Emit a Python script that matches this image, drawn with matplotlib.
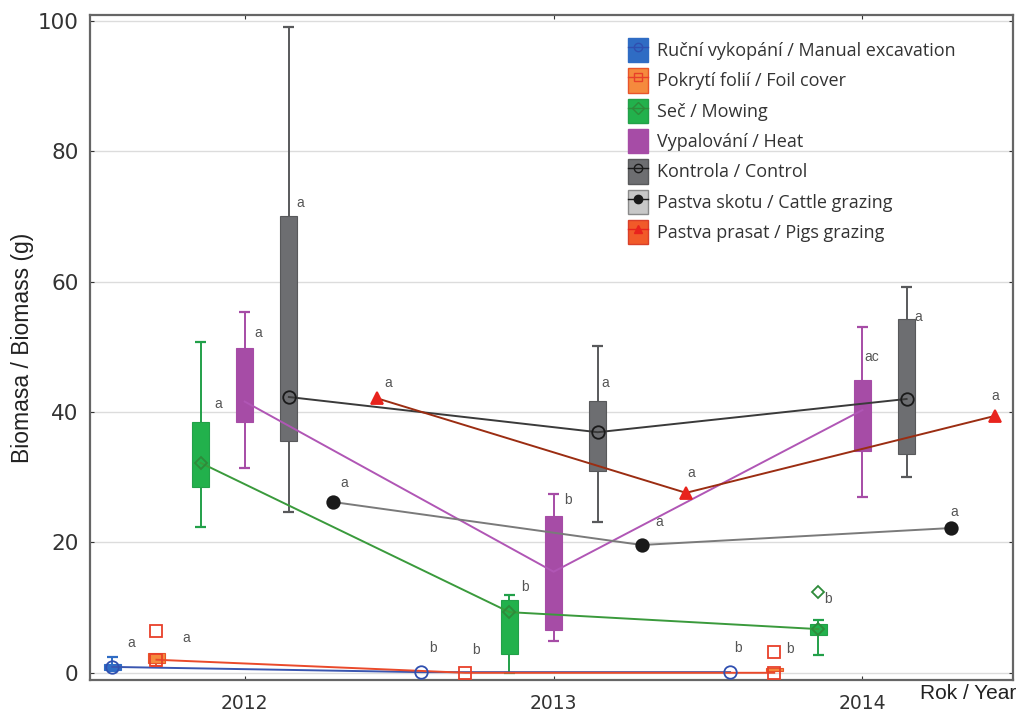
import numpy as np
import matplotlib
matplotlib.use("Agg")
from matplotlib import pyplot as plt
import matplotlib.patches as mpatches
from matplotlib.lines import Line2D

plt.rcParams['font.family'] = ['DejaVu Sans']

years = ['2012', '2013', '2014']
labels = ['Ruční vykopání / Manual excavation', 'Pokrytí folií / Foil cover', 'Seč / Mowing',
          'Vypalování / Heat', 'Kontrola / Control', 'Pastva skotu / Cattle grazing',
          'Pastva prasat / Pigs grazing']

nan = np.nan
# median per treatment and year
median = [[0.9, 0.1, 0.1],
          [2.0, 0.0, 0.0],
          [32.2, 9.3, 6.7],
          [41.6, 15.5, 40.3],
          [42.3, 36.9, 42.0],
          [26.2, 19.6, 22.2],
          [42.1, 27.6, 39.4]]
q1 = [[0.5, nan, nan],
      [1.5, nan, 0.2],
      [28.5, 2.9, 5.8],
      [38.4, 6.6, 34.0],
      [35.5, 30.9, 33.5],
      [nan, nan, nan],
      [nan, nan, nan]]
q3 = [[1.3, nan, nan],
      [3.0, nan, 0.8],
      [38.4, 11.2, 7.5],
      [49.8, 24.0, 44.9],
      [70.0, 41.7, 54.2],
      [nan, nan, nan],
      [nan, nan, nan]]
wlo = [[0.3, nan, nan],
       [1.1, nan, nan],
       [22.4, 0.0, 2.8],
       [31.4, 4.9, 27.0],
       [24.7, 23.1, 30.0],
       [nan, nan, nan],
       [nan, nan, nan]]
whi = [[2.4, nan, nan],
       [nan, nan, nan],
       [50.8, 11.9, 8.1],
       [55.4, 27.4, 53.0],
       [99.1, 50.2, 59.1],
       [nan, nan, nan],
       [nan, nan, nan]]
# outliers: (treatment, year, value)
outliers = [(1, 0, 6.4), (1, 2, 3.2), (2, 2, 12.4)]
# significance letters: (treatment, year, text, value)
letters = [(0, 0, 'a', 4.6), (1, 0, 'a', 5.4), (2, 0, 'a', 41.2), (3, 0, 'a', 52.1),
           (4, 0, 'a', 72.0), (5, 0, 'a', 29.1), (6, 0, 'a', 44.4),
           (0, 1, 'b', 3.8), (1, 1, 'b', 3.5), (2, 1, 'b', 13.2), (3, 1, 'b', 26.5),
           (4, 1, 'a', 44.4), (5, 1, 'a', 23.1), (6, 1, 'a', 30.6),
           (0, 2, 'b', 3.8), (1, 2, 'b', 3.7), (2, 2, 'b', 11.3), (3, 2, 'ac', 48.4),
           (4, 2, 'a', 54.5), (5, 2, 'a', 24.7), (6, 2, 'a', 42.4)]
letter_dx = [0.06, 0.095, 0.056, 0.045, 0.038, 0.038, 0.037,
             0.037, 0.034, 0.049, 0.045, 0.025, 0.057, 0.018,
             0.024, 0.05, 0.03, 0.029, 0.038, 0.012, 0.0]

box_col = ['#2f6cc4', '#f58a3d', '#22b14c', '#a64ca6', '#6d6e71', '#c8c8c8', '#f15a29']
edge_col = ['#2f6cc4', '#e8542a', '#22a049', '#a64ca6', '#58595b', '#8a8a8a', '#d9402a']
line_col = ['#3a56b0', '#ea4a2b', '#3a9a3c', '#b056b5', '#3a3a3a', '#7a7a7a', '#9b2d12']
mk = ['o', 's', 'D', None, 'o', 'o', '^']
mk_face = ['none', 'none', 'none', 'none', 'none', '#1a1a1a', '#e8231d']
mk_edge = ['#2f4fb0', '#e8402a', '#2e8b3a', '#a64ca6', '#1a1a1a', '#1a1a1a', '#e8231d']
mk_size = [9, 8, 6, 0, 9, 9, 9]

fig, ax = plt.subplots(figsize=(10.19, 7.12), dpi=100)
fig.subplots_adjust(left=0.088, right=0.994, bottom=0.045, top=0.979)

bw = 0.056
cap = 0.028
for t in range(7):
    xs = np.arange(3) + (t - 3) / 7.0
    ax.plot(xs, median[t], color=line_col[t], lw=1.4, zorder=3)
    for y in range(3):
        x = xs[y]
        if not np.isnan(whi[t][y]):
            ax.vlines(x, q3[t][y] if not np.isnan(q3[t][y]) else median[t][y], whi[t][y],
                      color=edge_col[t], lw=1.4, zorder=2)
            ax.hlines(whi[t][y], x - cap / 2 - 0.004, x + cap / 2 + 0.004, color=edge_col[t], lw=1.6, zorder=2)
        if not np.isnan(wlo[t][y]):
            ax.vlines(x, wlo[t][y], q1[t][y] if not np.isnan(q1[t][y]) else median[t][y],
                      color=edge_col[t], lw=1.4, zorder=2)
            ax.hlines(wlo[t][y], x - cap / 2 - 0.004, x + cap / 2 + 0.004, color=edge_col[t], lw=1.6, zorder=2)
        if not np.isnan(q1[t][y]):
            ax.bar(x, q3[t][y] - q1[t][y], bottom=q1[t][y], width=bw, color=box_col[t],
                   edgecolor=edge_col[t], linewidth=0.8, zorder=2)
        if mk[t] is not None:
            ax.plot(x, median[t][y], marker=mk[t], ms=mk_size[t], mfc=mk_face[t],
                    mec=mk_edge[t], mew=1.3, ls='none', zorder=4)

for t, y, v in outliers:
    x = y + (t - 3) / 7.0
    ax.plot(x, v, marker=mk[t], ms=mk_size[t] + 1 if t == 1 else mk_size[t], mfc='none',
            mec=mk_edge[t], mew=1.3, ls='none', zorder=4)

for i, (t, y, s, v) in enumerate(letters):
    x = y + (t - 3) / 7.0 + letter_dx[i]
    ax.text(x, v, s, fontsize=10, color='#555555', ha='center', va='center', zorder=5,
            family='Liberation Sans')

ax.set_xlim(-0.502, 2.487)
ax.set_ylim(-1.1, 100.9)
ax.set_xticks(range(3))
ax.set_xticklabels(years)
ax.set_yticks([0, 20, 40, 60, 80, 100])
ax.tick_params(axis='both', direction='in', length=3, color='#333333', top=True, right=True,
               labelcolor='#333333')
ax.tick_params(axis='x', pad=10, labelsize=13.5)
ax.tick_params(axis='y', pad=8, labelsize=15.5)
ax.grid(axis='y', color='#dcdcdc', lw=1)
ax.set_axisbelow(True)
for sp in ax.spines.values():
    sp.set_color('#666666')
    sp.set_linewidth(1.6)
ax.set_ylabel('Biomasa / Biomass (g)', fontsize=16.5, color='#222222', labelpad=3,
              family='Liberation Sans')
fig.text(0.997, 0.012, 'Rok / Year', fontsize=15, color='#222222', ha='right', va='bottom',
         family='Liberation Sans')

handles = []
for t in range(7):
    p = mpatches.Rectangle((0, 0), 1, 1, facecolor=box_col[t], edgecolor=edge_col[t], lw=1)
    if mk[t] is not None:
        m = Line2D([], [], marker=mk[t], ms=6, mfc=mk_face[t], mec=mk_edge[t],
                   mew=1, color=mk_edge[t], lw=1)
        handles.append((p, m))
    else:
        handles.append(p)
leg = ax.legend(handles, labels, loc='upper left', bbox_to_anchor=(0.566, 0.99), frameon=False,
                handlelength=1.1, handleheight=1.7, handletextpad=0.5, labelspacing=0.33,
                prop={'family': 'Open Sans', 'size': 13})
for txt in leg.get_texts():
    txt.set_color('#333333')

plt.savefig('out.png', dpi=100)
